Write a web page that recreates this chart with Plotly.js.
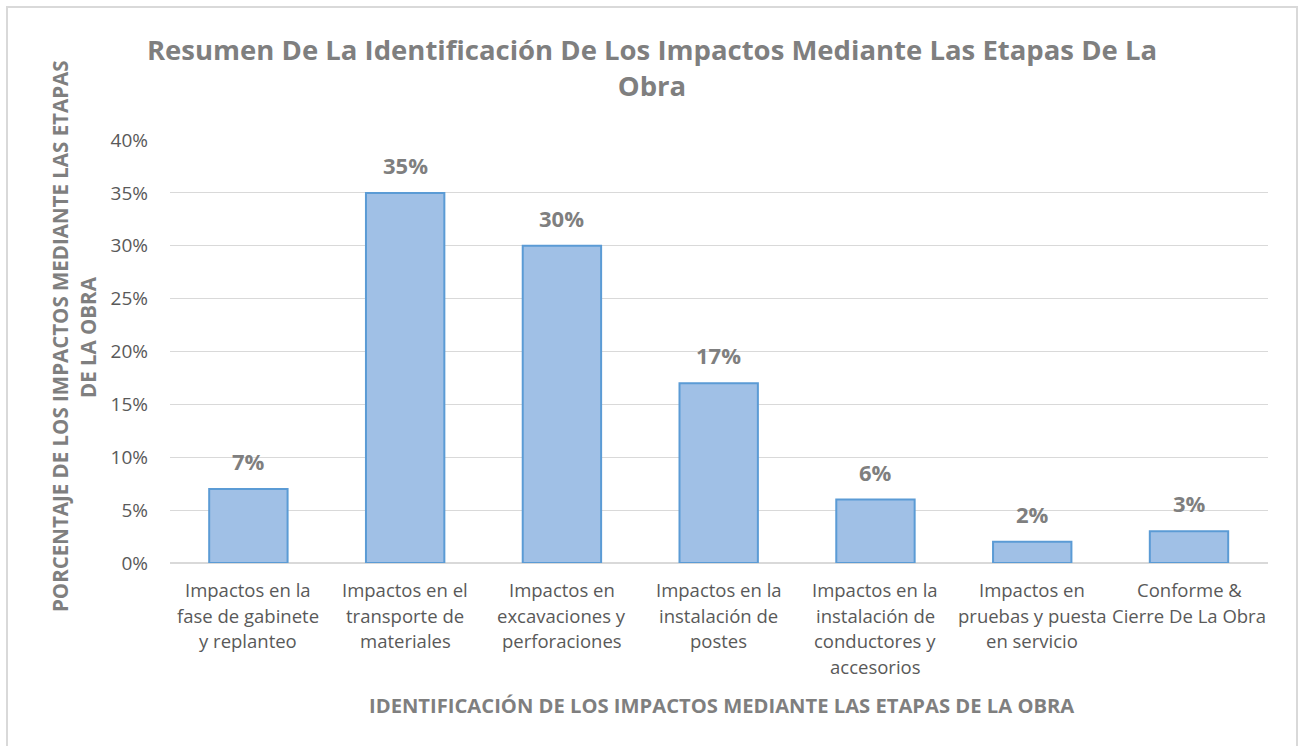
<!DOCTYPE html>
<html>
<head>
<meta charset="utf-8">
<script src="https://cdn.plot.ly/plotly-3.0.1.min.js"></script>
<style>
html,body{margin:0;padding:0;background:#fff;}
#chart{width:1304px;height:746px;}
</style>
</head>
<body>
<div id="chart"></div>
<script>
// ---- data ----
var categories = [
  "Impactos en la fase de gabinete y replanteo",
  "Impactos en el transporte de materiales",
  "Impactos en excavaciones y perforaciones",
  "Impactos en la instalación de postes",
  "Impactos en la instalación de conductores y accesorios",
  "Impactos en pruebas y puesta en servicio",
  "Conforme & Cierre De La Obra"
];
var categoryLines = [
  ["Impactos en la", "fase de gabinete", "y replanteo"],
  ["Impactos en el", "transporte de", "materiales"],
  ["Impactos en", "excavaciones y", "perforaciones"],
  ["Impactos en la", "instalación de", "postes"],
  ["Impactos en la", "instalación de", "conductores y", "accesorios"],
  ["Impactos en", "pruebas y puesta", "en servicio"],
  ["Conforme &", "Cierre De La Obra"]
];
var values = [0.07, 0.35, 0.30, 0.17, 0.06, 0.02, 0.03];
var valueLabels = ["7%", "35%", "30%", "17%", "6%", "2%", "3%"];
var yTickVals = [0, 0.05, 0.10, 0.15, 0.20, 0.25, 0.30, 0.35, 0.40];
var yTickText = ["0%", "5%", "10%", "15%", "20%", "25%", "30%", "35%", "40%"];

var chartTitle = "Resumen De La Identificación De Los Impactos Mediante Las Etapas De La<br>Obra";
var xTitle = "IDENTIFICACIÓN DE LOS IMPACTOS MEDIANTE LAS ETAPAS DE LA OBRA";
var yTitleLines = ["PORCENTAJE DE LOS IMPACTOS MEDIANTE LAS ETAPAS", "DE LA OBRA"];

// ---- layout helpers ----
var W = 1304, H = 746;
var M = {l: 170, r: 36, t: 140, b: 183};
var pw = W - M.l - M.r, ph = H - M.t - M.b;
function px2x(px){ return (px - M.l) / pw; }
function py2y(py){ return (H - M.b - py) / ph; }

var FONT = "'Open Sans', 'Noto Sans', sans-serif";
var annotations = [];

// value labels
for (var i = 0; i < categories.length; i++) {
  annotations.push({
    x: categories[i], y: values[i], xref: 'x', yref: 'y',
    text: '<b>' + valueLabels[i] + '</b>', showarrow: false,
    yanchor: 'bottom', yshift: 11,
    font: {family: FONT, size: 22, color: '#7f7f7f'}
  });
}
// category labels (multi-line)
for (var i = 0; i < categories.length; i++) {
  for (var j = 0; j < categoryLines[i].length; j++) {
    annotations.push({
      x: categories[i], y: 0, xref: 'x', yref: 'paper',
      text: categoryLines[i][j], showarrow: false,
      yanchor: 'middle', yshift: -(26.5 + j * 25.7),
      font: {family: FONT, size: 18.5, color: '#595959'}
    });
  }
}
// y axis title (two lines)
var yTitleX = [60, 88];
for (var k = 0; k < yTitleLines.length; k++) {
  annotations.push({
    x: px2x(yTitleX[k]), y: py2y(337), xref: 'paper', yref: 'paper',
    text: '<b>' + yTitleLines[k] + '</b>', showarrow: false, textangle: -90,
    xanchor: 'center', yanchor: 'middle',
    font: {family: FONT, size: 20.5, color: '#7f7f7f'}
  });
}
// x axis title
annotations.push({
  x: px2x(721), y: py2y(705), xref: 'paper', yref: 'paper',
  text: '<b>' + xTitle + '</b>', showarrow: false,
  xanchor: 'center', yanchor: 'middle',
  font: {family: FONT, size: 20.2, color: '#7f7f7f'}
});

var trace = {
  type: 'bar',
  x: categories,
  y: values,
  marker: {color: '#a0c0e6', line: {color: '#5b9bd5', width: 2}},
  hoverinfo: 'x+y'
};

var layout = {
  width: W, height: H,
  margin: M,
  paper_bgcolor: '#ffffff',
  plot_bgcolor: '#ffffff',
  bargap: 0.5,
  showlegend: false,
  title: {
    text: '<b>' + chartTitle + '</b>',
    x: 0.5, xanchor: 'center', y: 1 - 60 / H, yanchor: 'middle', yref: 'container',
    font: {family: FONT, size: 27.5, color: '#7f7f7f'}
  },
  xaxis: {
    type: 'category',
    showticklabels: false,
    showgrid: false,
    showline: false,
    zeroline: false,
    ticks: ''
  },
  yaxis: {
    range: [0, 0.40],
    tickvals: yTickVals,
    ticktext: yTickText,
    tickfont: {family: FONT, size: 19, color: '#595959'},
    showgrid: true,
    gridcolor: '#d9d9d9',
    gridwidth: 1,
    zeroline: true,
    zerolinecolor: '#d9d9d9',
    zerolinewidth: 1.5,
    showline: false,
    ticks: '',
    ticklabelstandoff: 21
  },
  annotations: annotations,
  shapes: [{
    type: 'path', xref: 'paper', yref: 'paper',
    path: 'M ' + px2x(7) + ' ' + py2y(760) + ' L ' + px2x(7) + ' ' + py2y(7) +
          ' L ' + px2x(1297) + ' ' + py2y(7) + ' L ' + px2x(1297) + ' ' + py2y(760),
    line: {color: '#d9d9d9', width: 2}
  }]
};

Plotly.newPlot('chart', [trace], layout, {displayModeBar: false, staticPlot: true});
</script>
</body>
</html>
